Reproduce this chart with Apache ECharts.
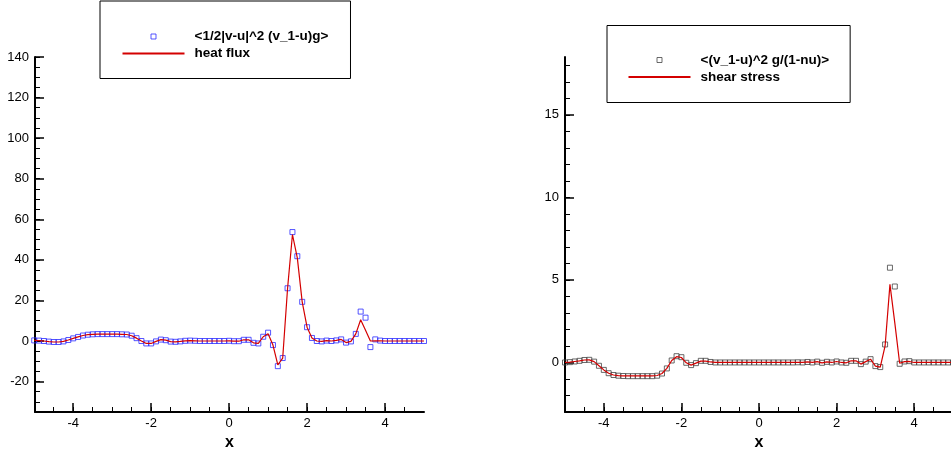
<!DOCTYPE html>
<html><head><meta charset="utf-8">
<script src="https://cdn.jsdelivr.net/npm/echarts@6/dist/echarts.min.js"></script>
<style>html,body{margin:0;padding:0;background:#fff}#c{width:951px;height:449px}</style>
</head><body><div id="c"></div>
<script>
const xValues = [-5,-4.875,-4.75,-4.625,-4.5,-4.375,-4.25,-4.125,-4,-3.875,-3.75,-3.625,-3.5,-3.375,-3.25,-3.125,-3,-2.875,-2.75,-2.625,-2.5,-2.375,-2.25,-2.125,-2,-1.875,-1.75,-1.625,-1.5,-1.375,-1.25,-1.125,-1,-0.875,-0.75,-0.625,-0.5,-0.375,-0.25,-0.125,0,0.125,0.25,0.375,0.5,0.625,0.75,0.875,1,1.125,1.25,1.375,1.5,1.625,1.75,1.875,2,2.125,2.25,2.375,2.5,2.625,2.75,2.875,3,3.125,3.25,3.375,3.5,3.625,3.75,3.875,4,4.125,4.25,4.375,4.5,4.625,4.75,4.875,5];

const heatMoment = [0.3,0.2,0.0,-0.3,-0.5,-0.5,-0.2,0.5,1.3,2.0,
  2.7,3.1,3.3,3.4,3.4,3.4,3.4,3.4,3.3,3.2,
  2.6,1.4,0.0,-1.2,-1.2,-0.2,0.7,0.4,-0.3,-0.4,
  -0.2,0.1,0.2,0.1,0.0,0.0,0.0,0.0,0.0,0.0,
  0.1,-0.1,-0.1,0.6,0.6,-0.9,-1.2,2.1,4.1,-2.0,
  -12.4,-8.4,26.0,53.7,41.8,19.3,6.8,1.5,0.0,-0.2,
  0.2,0.0,0.3,0.8,-0.8,-0.2,3.5,14.5,11.5,-3.0,
  0.8,0.2,0,0,0,0,0,0,0,0,0];

const heatFlux = [0.3,0.2,0.0,-0.3,-0.5,-0.5,-0.2,0.5,1.3,2.0,
  2.7,3.1,3.3,3.4,3.4,3.4,3.4,3.4,3.3,3.2,
  2.6,1.4,0.0,-1.2,-1.2,-0.2,0.7,0.4,-0.3,-0.4,
  -0.2,0.1,0.2,0.1,0.0,0.0,0.0,0.0,0.0,0.0,
  0.1,-0.1,-0.1,0.6,0.6,-0.9,-1.2,2.1,3.6,-2.0,
  -11.8,-8.4,26.0,52.5,41.0,19.3,6.8,1.5,0.0,-0.2,
  0.2,0.0,0.3,0.8,-0.8,-0.2,3.5,10.5,5.3,0.0,
  0.1,0.1,0,0,0,0,0,0,0,0,0];

const shearMoment = [0.0,0.02,0.06,0.1,0.15,0.16,0.05,-0.2,-0.45,-0.65,
  -0.76,-0.8,-0.82,-0.83,-0.83,-0.83,-0.83,-0.83,-0.83,-0.8,
  -0.67,-0.36,0.12,0.38,0.32,-0.02,-0.16,-0.04,0.1,0.1,
  0.03,0,0,0,0,0,0,0,0,0,
  0,0,0,0,0,0,0,0,0.01,0.0,
  0.03,0.0,0.05,-0.02,0.04,0.0,0.06,0.0,-0.02,0.1,
  0.1,-0.1,0.05,0.2,-0.22,-0.28,1.09,5.74,4.6,-0.08,
  0.06,0.08,0,0,0,0,0,0,0,0,0];

const shearStress = [0.0,0.02,0.06,0.1,0.15,0.16,0.05,-0.2,-0.45,-0.65,
  -0.76,-0.8,-0.81,-0.81,-0.81,-0.81,-0.81,-0.81,-0.81,-0.79,
  -0.67,-0.36,0.12,0.35,0.3,-0.02,-0.16,-0.04,0.08,0.08,
  0.03,0,0,0,0,0,0,0,0,0,
  0,0,0,0,0,0,0,0,0.01,0.0,
  0.03,0.0,0.05,-0.02,0.04,0.0,0.06,0.0,-0.02,0.1,
  0.1,-0.1,0.05,0.2,-0.22,-0.28,1.0,4.73,2.4,-0.05,
  0.05,0.06,0,0,0,0,0,0,0,0,0];

const xMajorTicks = [-4,-2,0,2,4];
const xMinorTicks = [-4.5,-4,-3.5,-3,-2.5,-2,-1.5,-1,-0.5,0,0.5,1,1.5,2,2.5,3,3.5,4,4.5];
const heatMajorTicks = [-20,0,20,40,60,80,100,120,140];
const heatMinorTicks = [-35,-30,-25,-20,-15,-10,-5,0,5,10,15,20,25,30,35,40,45,50,55,60,65,70,75,80,85,90,95,100,105,110,115,120,125,130,135,140];
const shearMajorTicks = [0,5,10,15];
const shearMinorTicks = [-3,-2,-1,0,1,2,3,4,5,6,7,8,9,10,11,12,13,14,15,16,17,18];

const heatMarkName = '<1/2|v-u|^2 (v_1-u)g>';
const heatLineName = 'heat flux';
const shearMarkName = '<(v_1-u)^2 g/(1-nu)>';
const shearLineName = 'shear stress';

const FONT = 'Liberation Sans, Arial, Helvetica, sans-serif';
const SQUARE_ICON = 'path://M28.5,0L33.5,0L33.5,5L28.5,5Z M0,2.5L0,2.5 M62,2.5L62,2.5';
const zip = arr => xValues.map((x, i) => [x, arr[i]]);

function mainX(grid, min, max) {
  return {
    gridIndex: grid, type: 'value', min, max, position: 'bottom',
    name: 'x', nameLocation: 'middle', nameGap: 18,
    nameTextStyle: { fontFamily: FONT, fontSize: 16, fontWeight: 'bold', color: '#000' },
    axisLine: { show: true, onZero: false, lineStyle: { color: '#000', width: 2 } },
    axisTick: { show: true, inside: true, length: 9, customValues: xMajorTicks, lineStyle: { color: '#000', width: 1.5 } },
    axisLabel: { show: true, customValues: xMajorTicks, margin: 5, fontFamily: FONT, fontSize: 13, color: '#000' },
    splitLine: { show: false }
  };
}
function minorX(grid, min, max) {
  return {
    gridIndex: grid, type: 'value', min, max, position: 'bottom',
    axisLine: { show: false, onZero: false },
    axisTick: { show: true, inside: true, length: 5, customValues: xMinorTicks, lineStyle: { color: '#000', width: 1 } },
    axisLabel: { show: false }, splitLine: { show: false }
  };
}
function mainY(grid, min, max, ticks) {
  return {
    gridIndex: grid, type: 'value', min, max, position: 'left',
    axisLine: { show: true, onZero: false, lineStyle: { color: '#000', width: 2 } },
    axisTick: { show: true, inside: true, length: 9, customValues: ticks, lineStyle: { color: '#000', width: 1.5 } },
    axisLabel: { show: true, customValues: ticks, margin: 6, fontFamily: FONT, fontSize: 13, color: '#000' },
    splitLine: { show: false }
  };
}
function minorY(grid, min, max, ticks) {
  return {
    gridIndex: grid, type: 'value', min, max, position: 'left',
    axisLine: { show: false, onZero: false },
    axisTick: { show: true, inside: true, length: 5, customValues: ticks, lineStyle: { color: '#000', width: 1 } },
    axisLabel: { show: false }, splitLine: { show: false }
  };
}
function legendBox(left, top, pad, items) {
  return {
    left, top, orient: 'vertical', itemWidth: 62, itemHeight: 5, itemGap: 3,
    padding: pad, borderColor: '#000', borderWidth: 1, backgroundColor: '#fff',
    selectedMode: false,
    textStyle: { fontFamily: FONT, fontSize: 13.5, fontWeight: 'bold', color: '#000', padding: [0, 0, 0, 5] },
    data: items
  };
}
const hiddenDot = { color: 'rgba(0,0,0,0)', borderColor: 'rgba(0,0,0,0)', borderWidth: 0 };

const chart = echarts.init(document.getElementById('c'), null, { renderer: 'canvas' });
chart.setOption({
  animation: false,
  backgroundColor: '#fff',
  grid: [
    { left: 35, top: 57, width: 389, height: 355, containLabel: false, outerBoundsMode: 'none' },
    { left: 565, top: 57, width: 388, height: 355, containLabel: false, outerBoundsMode: 'none' }
  ],
  xAxis: [ mainX(0, -4.98, 5), minorX(0, -4.98, 5), mainX(1, -5, 5), minorX(1, -5, 5) ],
  yAxis: [ mainY(0, -35, 140, heatMajorTicks), minorY(0, -35, 140, heatMinorTicks),
           mainY(1, -3, 18.5, shearMajorTicks), minorY(1, -3, 18.5, shearMinorTicks) ],
  legend: [
    legendBox(100, 1, [28.5, 22, 18, 21.5], [
      { name: heatMarkName, icon: SQUARE_ICON, itemStyle: { color: 'rgba(0,0,0,0)', borderColor: '#2a2aff', borderWidth: 1 } },
      { name: heatLineName, itemStyle: hiddenDot }
    ]),
    legendBox(607, 25.5, [27.5, 21, 18.5, 20.5], [
      { name: shearMarkName, icon: SQUARE_ICON, itemStyle: { color: 'rgba(0,0,0,0)', borderColor: '#444', borderWidth: 1 } },
      { name: shearLineName, itemStyle: hiddenDot }
    ])
  ],
  series: [
    { name: heatMarkName, type: 'scatter', xAxisIndex: 0, yAxisIndex: 0, clip: false,
      symbol: 'rect', symbolSize: 5, data: zip(heatMoment),
      itemStyle: { color: 'rgba(0,0,0,0)', borderColor: '#2a2aff', borderWidth: 1 } },
    { name: heatLineName, type: 'line', xAxisIndex: 0, yAxisIndex: 0, symbol: 'none',
      data: zip(heatFlux), lineStyle: { color: '#d40000', width: 1.2 }, itemStyle: { color: '#d40000' } },
    { name: shearMarkName, type: 'scatter', xAxisIndex: 2, yAxisIndex: 2, clip: false,
      symbol: 'rect', symbolSize: 5, data: zip(shearMoment),
      itemStyle: { color: 'rgba(0,0,0,0)', borderColor: '#444', borderWidth: 1 } },
    { name: shearLineName, type: 'line', xAxisIndex: 2, yAxisIndex: 2, symbol: 'none',
      data: zip(shearStress), lineStyle: { color: '#d40000', width: 1.2 }, itemStyle: { color: '#d40000' } }
  ]
});
</script></body></html>
